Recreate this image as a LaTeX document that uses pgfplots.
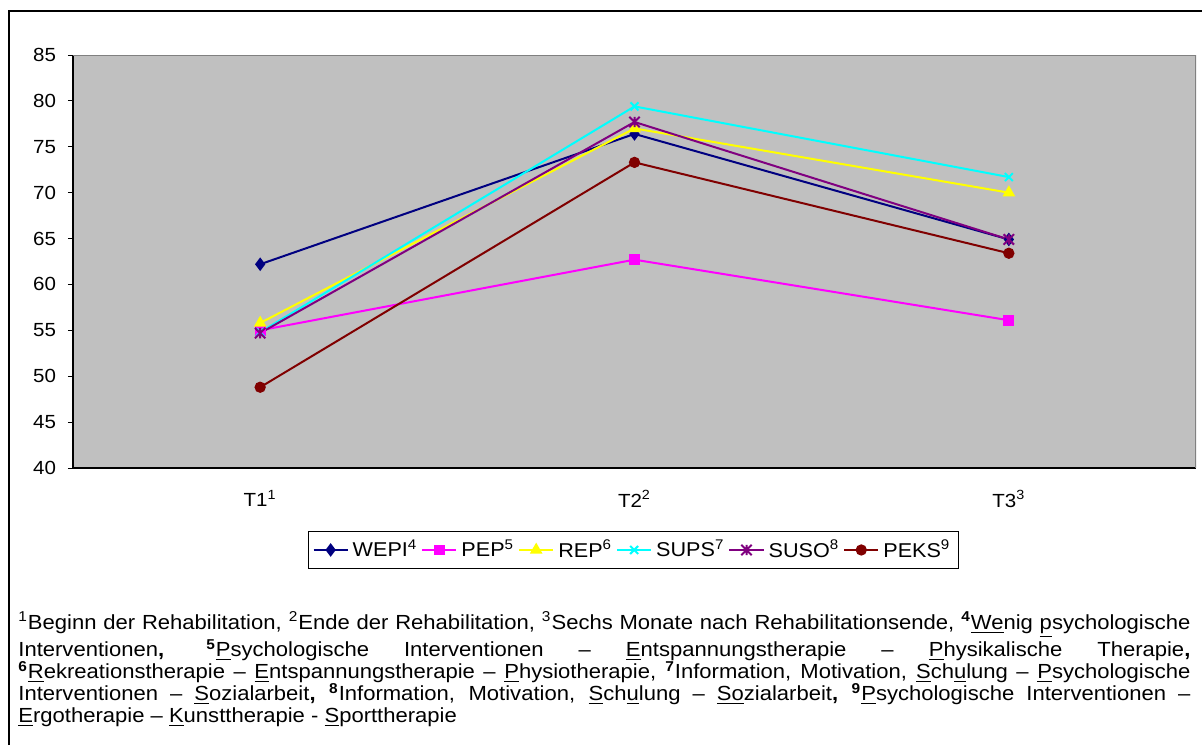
\documentclass[border=0pt]{standalone}
\usepackage{fontspec}
\setmainfont{Liberation Sans}[FakeStretch=1.08]
\usepackage{pgfplots}
\pgfplotsset{compat=1.18}
\definecolor{bgGray}{RGB}{192,192,192}
\definecolor{bdGray}{RGB}{128,128,128}
\definecolor{cWEPI}{RGB}{0,0,128}
\definecolor{cPEP}{RGB}{255,0,255}
\definecolor{cREP}{RGB}{255,255,0}
\definecolor{cSUPS}{RGB}{0,255,255}
\definecolor{cSUSO}{RGB}{128,0,128}
\definecolor{cPEKS}{RGB}{128,0,0}
\pgfdeclareplotmark{xstar}{%
 \pgfpathmoveto{\pgfqpoint{-\pgfplotmarksize}{-\pgfplotmarksize}}\pgfpathlineto{\pgfqpoint{\pgfplotmarksize}{\pgfplotmarksize}}%
 \pgfpathmoveto{\pgfqpoint{-\pgfplotmarksize}{\pgfplotmarksize}}\pgfpathlineto{\pgfqpoint{\pgfplotmarksize}{-\pgfplotmarksize}}%
 \pgfpathmoveto{\pgfqpoint{0pt}{-\pgfplotmarksize}}\pgfpathlineto{\pgfqpoint{0pt}{\pgfplotmarksize}}%
 \pgfusepathqstroke}
\begin{document}
\begin{tikzpicture}
\useasboundingbox (0,0) rectangle (601pt,372.5pt);
\draw[line width=1pt] (4.5pt,0) -- (4.5pt,367pt) -- (601pt,367pt);
\begin{axis}[
  at={(36.5pt,138.5pt)}, anchor=south west,
  scale only axis, width=561.5pt, height=206.5pt,
  xmin=0.5, xmax=3.5, ymin=40, ymax=85,
  ytick={40,45,...,85},
  xtick={1,2,3},
  xticklabels={T1\textsuperscript{1},T2\textsuperscript{2},T3\textsuperscript{3}},
  major x tick style={draw=none},
  extra x ticks={0.5,1.5,2.5,3.5},
  extra x tick labels={},
  extra x tick style={major tick length=2pt, tick style={black, line width=0.5pt}},
  axis x line*=bottom, axis y line*=left,
  tick align=outside,
  major tick length=2.5pt,
  tick style={black, line width=0.5pt},
  axis line style={black, line width=0.7pt},
  axis background/.style={fill=bgGray},
  tick label style={font=\fontsize{9.5}{10}\selectfont},
  /pgf/number format/assume math mode=true,
  yticklabel style={xshift=-2.5pt},
  xticklabel style={yshift=-5pt},
  legend style={at={(0.4991,-0.1985)}, anchor=center, legend columns=6,
    draw=black, line width=0.5pt, font=\fontsize{10}{11}\selectfont,
    inner sep=2pt, /tikz/every even column/.append style={column sep=0pt}},
  every axis plot/.append style={line width=1pt},
]
\addplot[cWEPI, mark=diamond*, mark size=2.6pt, mark options={solid}] coordinates {(1,62.2) (2,76.4) (3,64.9)};
\addlegendentry{WEPI\textsuperscript{4}}
\addplot[cPEP, mark=square*, mark size=2.2pt] coordinates {(1,55.0) (2,62.7) (3,56.1)};
\addlegendentry{PEP\textsuperscript{5}}
\addplot[cREP, mark=triangle*, mark size=2.7pt] coordinates {(1,55.8) (2,77.0) (3,70.0)};
\addlegendentry{REP\textsuperscript{6}}
\addplot[cSUPS, mark=x, mark size=2.8pt] coordinates {(1,54.8) (2,79.4) (3,71.7)};
\addlegendentry{SUPS\textsuperscript{7}}
\addplot[cSUSO, mark=xstar, mark size=2.6pt] coordinates {(1,54.7) (2,77.7) (3,64.9)};
\addlegendentry{SUSO\textsuperscript{8}}
\addplot[cPEKS, mark=*, mark size=2.3pt] coordinates {(1,48.8) (2,73.3) (3,63.4)};
\addlegendentry{PEKS\textsuperscript{9}}
\draw[bdGray, line width=0.8pt] (rel axis cs:0,1) -- (rel axis cs:1,1) -- (rel axis cs:1,0);
\end{axis}
\node[anchor=base west, inner sep=0pt] at (9pt,58pt) {\parbox[t]{586pt}{\fontsize{10.2}{11}\selectfont\hyphenpenalty=10000\exhyphenpenalty=10000
\textsuperscript{1}Beginn der Rehabilitation, \textsuperscript{2}Ende der Rehabilitation, \textsuperscript{3}Sechs Monate nach Rehabilitationsende, \textsuperscript{\textbf{4}}\underline{We}nig \underline{p}sychologische\linebreak Interventionen\textbf{,} \textsuperscript{\textbf{5}}\underline{P}sychologische Interventionen – \underline{E}ntspannungstherapie – \underline{P}hysikalische Therapie\textbf{,}\linebreak \textsuperscript{\textbf{6}}\underline{R}ekreationstherapie – \underline{E}ntspannungstherapie – \underline{P}hysiotherapie, \textsuperscript{\textbf{7}}Information, Motivation, \underline{S}ch\underline{u}lung – \underline{P}sychologische\linebreak Interventionen – \underline{S}ozialarbeit\textbf{,} \textsuperscript{\textbf{8}}Information, Motivation, \underline{S}ch\underline{u}lung – \underline{So}zialarbeit\textbf{,} \textsuperscript{\textbf{9}}\underline{P}sychologische Interventionen –\linebreak \underline{E}rgotherapie – \underline{K}unsttherapie - \underline{S}porttherapie}};
\end{tikzpicture}
\end{document}
